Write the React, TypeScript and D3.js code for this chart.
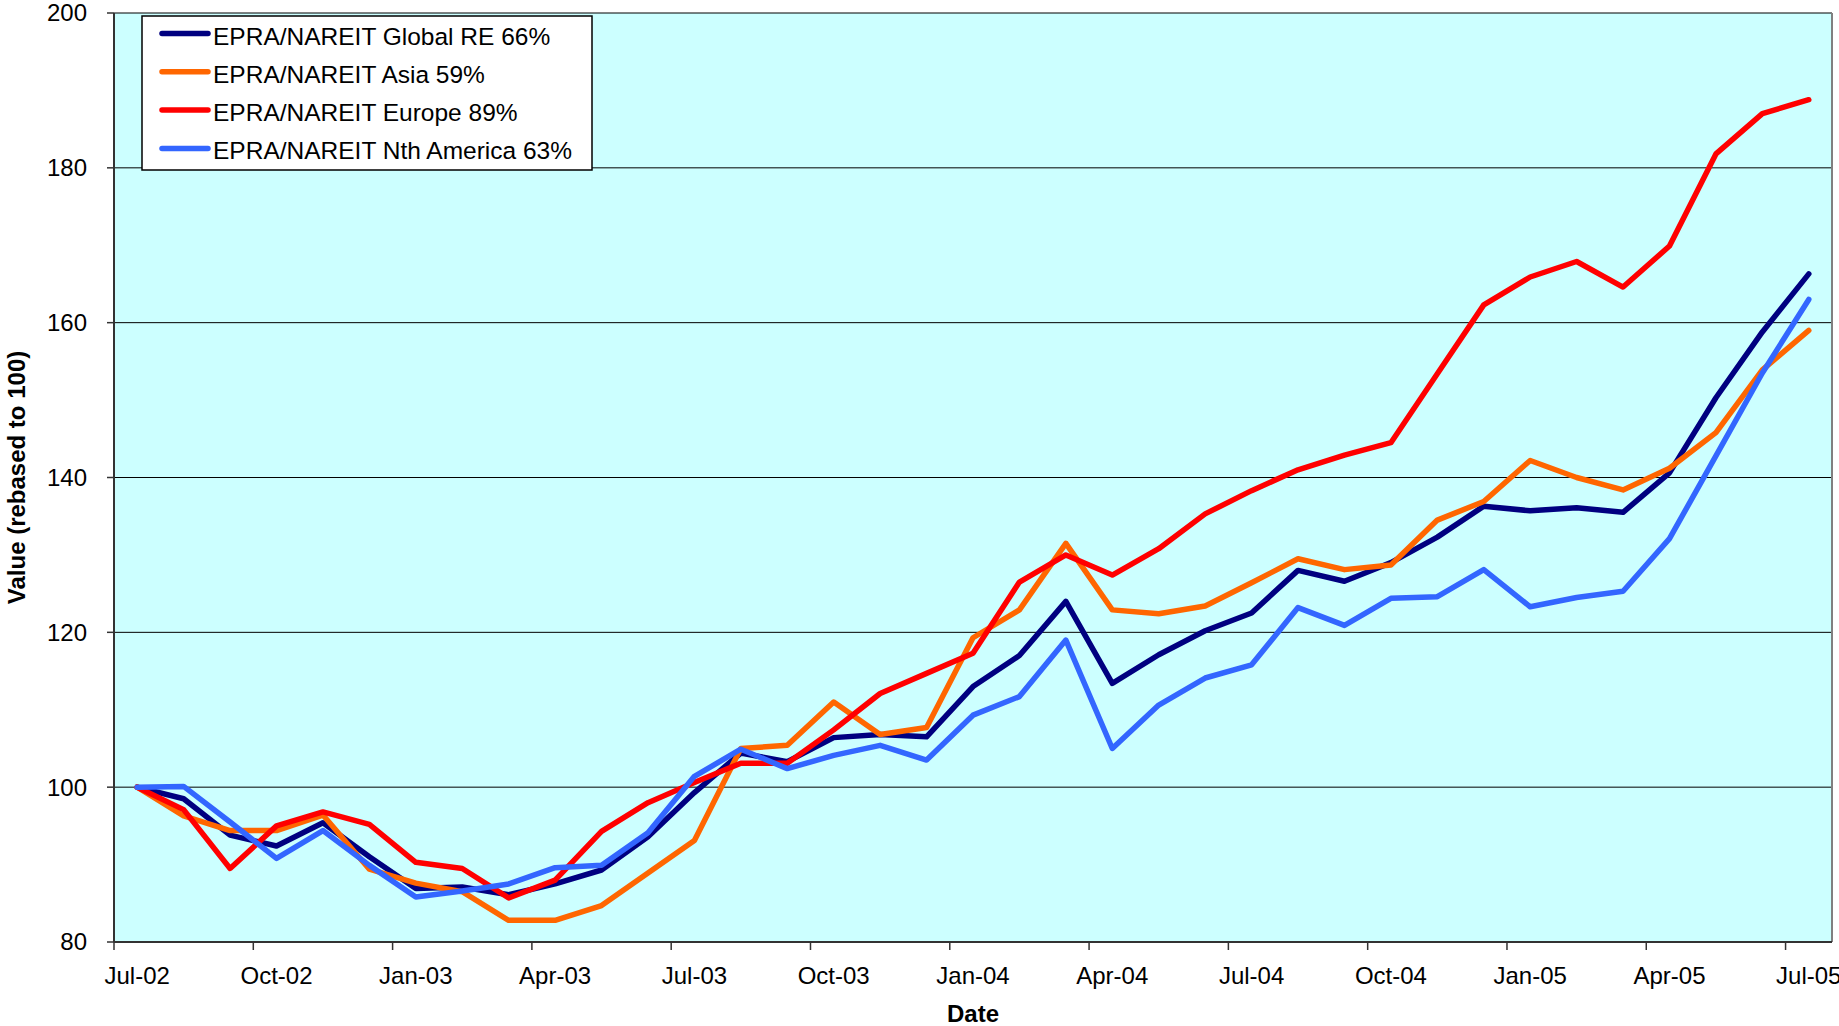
import React, { useEffect } from "react";
import * as d3 from "d3";

const months = [
  "Jul-02","Aug-02","Sep-02","Oct-02","Nov-02","Dec-02","Jan-03","Feb-03","Mar-03","Apr-03","May-03","Jun-03",
  "Jul-03","Aug-03","Sep-03","Oct-03","Nov-03","Dec-03","Jan-04","Feb-04","Mar-04","Apr-04","May-04","Jun-04",
  "Jul-04","Aug-04","Sep-04","Oct-04","Nov-04","Dec-04","Jan-05","Feb-05","Mar-05","Apr-05","May-05","Jun-05","Jul-05"
];

const globalRE = [100,98.5,93.8,92.4,95.4,91.0,86.9,87.1,86.1,87.5,89.3,93.6,99.3,104.4,103.3,106.4,106.8,106.5,113.0,117.0,124.0,113.4,117.1,120.2,122.5,128.0,126.6,129.0,132.3,136.3,135.7,136.1,135.5,140.6,150.3,158.8,166.3];
const asia = [100,96.3,94.4,94.4,96.4,89.4,87.6,86.5,82.8,82.8,84.7,88.9,93.1,105.0,105.4,111.0,106.8,107.7,119.3,122.9,131.5,122.9,122.4,123.4,126.4,129.5,128.1,128.7,134.5,136.9,142.2,140.0,138.4,141.2,145.8,153.9,159.0];
const europe = [100,97.1,89.5,95.0,96.8,95.2,90.3,89.5,85.7,88.0,94.3,98.0,100.6,103.1,103.1,107.4,112.1,114.7,117.3,126.5,130.0,127.4,130.8,135.3,138.3,141.0,142.9,144.5,153.4,162.3,165.9,167.9,164.6,169.9,181.8,187.0,188.8];
const nthAmerica = [100,100.1,95.5,90.8,94.4,89.9,85.8,86.6,87.5,89.6,89.9,94.1,101.4,104.9,102.4,104.1,105.4,103.5,109.3,111.7,119.0,105.0,110.6,114.1,115.8,123.2,120.9,124.4,124.6,128.1,123.3,124.5,125.3,132.1,142.8,153.5,163.0];

const seriesNames = ["EPRA/NAREIT Global RE 66%","EPRA/NAREIT Asia 59%","EPRA/NAREIT Europe 89%","EPRA/NAREIT Nth America 63%"];
const seriesColors = ["#000080","#FF6600","#FF0000","#3366FF"];
const seriesValues = [globalRE, asia, europe, nthAmerica];

const yTicks = [80,100,120,140,160,180,200];

const W = 1839, H = 1026;
const L = 114, R = 1832, T = 13, B = 942;
const FONT = "Arial, 'Liberation Sans', sans-serif";

export default function App() {
  useEffect(() => { document.body.style.margin = "0"; }, []);
  const x = d3.scaleBand<string>().domain(months).range([L, R]).paddingInner(0).paddingOuter(0);
  const y = d3.scaleLinear().domain([80, 200]).range([B, T]);
  const line = d3.line<number>()
    .x((_, i) => (x(months[i]) as number) + x.bandwidth() / 2)
    .y(d => y(d));
  const tickIdx = months.map((_, i) => i).filter(i => i % 3 === 0);

  return (
    <svg width={W} height={H} style={{ display: "block", background: "#fff" }}>
      <rect x={L} y={T} width={R - L} height={B - T} fill="#CCFFFF" />
      {yTicks.map(t => (
        <line key={t} x1={L} x2={R} y1={y(t)} y2={y(t)} stroke="#000" strokeWidth={1} />
      ))}
      <line x1={R} x2={R} y1={T} y2={B} stroke="#808080" strokeWidth={2} />
      {seriesValues.map((vals, k) => (
        <path key={k} d={line(vals) || ""} fill="none" stroke={seriesColors[k]} strokeWidth={5.5}
          strokeLinejoin="round" strokeLinecap="round" />
      ))}
      <line x1={L} x2={L} y1={T} y2={B} stroke="#333" strokeWidth={2} />
      <line x1={L} x2={R} y1={B} y2={B} stroke="#333" strokeWidth={2} />
      {yTicks.map(t => (
        <g key={"yt" + t}>
          <line x1={L - 7} x2={L} y1={y(t)} y2={y(t)} stroke="#333" strokeWidth={1.5} />
          <text x={87} y={y(t)} dy="0.35em" textAnchor="end" fontFamily={FONT} fontSize={24} fill="#000">{t}</text>
        </g>
      ))}
      {tickIdx.map(i => (
        <g key={"xt" + i}>
          <line x1={x(months[i]) as number} x2={x(months[i]) as number} y1={B} y2={B + 8} stroke="#333" strokeWidth={1.5} />
          <text x={(x(months[i]) as number) + x.bandwidth() / 2} y={984} textAnchor="middle" fontFamily={FONT} fontSize={24} fill="#000">{months[i]}</text>
        </g>
      ))}
      <text x={(L + R) / 2} y={1022} textAnchor="middle" fontFamily={FONT} fontSize={24} fontWeight="bold">Date</text>
      <text transform={`translate(24.5, ${(T + B) / 2}) rotate(-90)`} textAnchor="middle" fontFamily={FONT} fontSize={24} fontWeight="bold">Value (rebased to 100)</text>
      <g>
        <rect x={142} y={16} width={450} height={154} fill="#fff" stroke="#000" strokeWidth={1.5} />
        {seriesNames.map((n, k) => {
          const cy = 33.5 + k * 38.3;
          return (
            <g key={n}>
              <line x1={162} x2={208} y1={cy} y2={cy} stroke={seriesColors[k]} strokeWidth={5.5} strokeLinecap="round" />
              <text x={213} y={cy + 11} fontFamily={FONT} fontSize={24.5} fill="#000">{n}</text>
            </g>
          );
        })}
      </g>
    </svg>
  );
}
